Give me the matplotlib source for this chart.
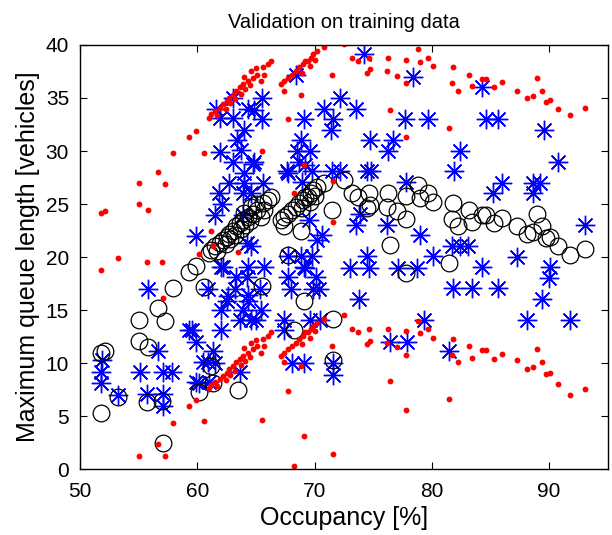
import matplotlib
matplotlib.use('Agg')
import matplotlib.pyplot as plt

plt.rcParams['font.family'] = ['Liberation Sans', 'DejaVu Sans']

# model estimate (black circles)
est_x = [51.8, 52.1, 51.8, 53.2, 55.0, 55.0, 55.8, 56.6, 57.2, 55.7, 57.0, 57.1,
         57.9, 59.3, 59.9, 60.6, 61.2, 61.3, 60.1, 63.5, 65.5, 61.0,
         61.2, 61.5, 61.7, 61.9, 62.2, 62.4, 62.5, 62.7, 62.8, 63.0, 63.2, 63.3,
         63.6, 63.7, 63.9, 64.0, 64.1, 64.3, 64.5, 64.6, 64.7, 65.0, 65.1, 65.4,
         65.6, 65.7, 66.0, 66.3,
         67.1, 67.4, 67.4, 67.7, 68.1, 68.4, 68.7, 68.8, 68.9, 69.0, 69.2, 69.4,
         69.6, 69.7, 69.9, 70.0, 70.2, 70.8, 67.7, 69.1, 71.6, 68.2, 71.6,
         71.5, 72.5, 73.2, 73.7, 74.6, 74.7, 74.5, 76.3, 76.2, 77.0, 77.8, 77.8,
         78.8, 79.0, 79.7, 80.1, 81.8, 81.7, 82.2, 76.4, 77.8, 81.5, 83.2, 83.4,
         84.3, 84.6, 85.3, 86.0, 87.3, 88.1, 88.6, 89.0, 89.4, 89.7, 90.1, 90.8,
         91.8, 93.1]
est_y = [11.0, 11.1, 5.3, 6.8, 14.1, 12.1, 11.5, 15.2, 14.0, 6.3, 6.4, 2.5,
         17.1, 18.6, 19.2, 17.2, 9.7, 8.1, 7.3, 7.5, 17.3, 20.4,
         20.7, 21.0, 20.6, 21.3, 21.6, 21.2, 21.9, 22.2, 21.7, 22.5, 22.1, 22.9,
         23.2, 22.6, 23.5, 24.2, 23.0, 23.8, 23.4, 24.7, 24.1, 25.0, 24.4, 23.8,
         25.1, 24.4, 25.4, 25.7,
         23.5, 23.8, 22.9, 24.1, 24.4, 24.7, 25.1, 22.5, 24.6, 25.4, 25.7, 25.7,
         25.2, 26.0, 26.3, 25.8, 26.6, 27.0, 20.2, 15.9, 14.2, 13.1, 10.3,
         24.4, 27.3, 26.0, 25.7, 26.0, 24.9, 24.6, 26.0, 24.7, 24.3, 23.6, 25.8,
         26.8, 25.6, 26.0, 25.2, 25.1, 23.6, 22.9, 21.1, 18.5, 19.4, 24.4, 23.3,
         24.0, 24.0, 23.2, 23.7, 22.9, 22.2, 22.4, 24.1, 22.9, 21.8, 21.9, 21.0,
         20.2, 20.8]

# upper and lower bounds (red dots), same occupancy values as the estimate
upper_y = [24.2, 24.3, 18.8, 19.9, 27.0, 25.0, 24.4, 28.0, 26.9, 19.5, 19.5, 16.1,
           29.8, 31.3, 31.9, 29.8, 22.5, 21.0, 20.3, 20.5, 30.0, 33.1,
           33.5, 33.8, 33.4, 34.1, 34.4, 34.0, 34.7, 35.0, 34.5, 35.3, 34.9, 35.7,
           36.0, 35.4, 36.3, 37.0, 35.8, 36.6, 36.2, 37.5, 36.9, 37.8, 37.2, 36.6,
           37.9, 37.2, 38.2, 38.5,
           36.3, 36.6, 35.7, 36.9, 37.2, 37.5, 37.9, 35.3, 37.4, 38.2, 38.5, 38.5,
           38.0, 38.8, 39.1, 38.6, 39.4, 39.8, 33.0, 28.7, 27.2, 26.0, 23.3,
           37.2, 40.1, 38.8, 38.5, 38.8, 37.7, 37.4, 38.8, 37.5, 37.1, 36.4, 38.6,
           39.6, 38.4, 38.8, 38.0, 37.9, 36.4, 35.7, 33.9, 31.3, 32.2, 37.2, 36.1,
           36.8, 36.8, 36.0, 36.5, 35.7, 35.0, 35.2, 36.9, 35.7, 34.6, 34.8, 34.0,
           33.4, 34.1]
lower_y = [-1.8, -1.7, -7.5, -6.0, 1.2, -0.7, -1.3, 2.4, 1.2, -6.5, -6.4, -10.0,
           4.4, 6.0, 6.5, 4.5, -3.1, -4.7, -5.5, -5.3, 4.6, 7.7,
           7.9, 8.2, 7.8, 8.5, 8.8, 8.4, 9.1, 9.4, 8.9, 9.7, 9.3, 10.1,
           10.4, 9.8, 10.7, 11.4, 10.2, 11.0, 10.6, 11.9, 11.3, 12.2, 11.6, 11.0,
           12.3, 11.6, 12.6, 12.9,
           10.7, 11.0, 10.1, 11.3, 11.6, 11.9, 12.3, 9.7, 11.8, 12.6, 12.9, 12.9,
           12.4, 13.2, 13.5, 13.0, 13.8, 14.2, 7.4, 3.1, 1.4, 0.3, -2.5,
           11.6, 14.5, 13.2, 12.9, 13.2, 12.1, 11.8, 13.2, 11.9, 11.5, 10.8, 13.0,
           14.0, 12.8, 13.2, 12.4, 12.3, 10.8, 10.1, 8.3, 5.6, 6.6, 11.6, 10.5,
           11.2, 11.2, 10.4, 10.9, 10.3, 9.4, 9.6, 11.3, 10.1, 9.0, 9.1, 8.0,
           7.0, 7.6]

# measured queue lengths (blue asterisks)
meas_x = [61.6, 63.0, 61.9, 63.0, 64.3, 64.8, 65.5, 65.5, 64.0, 63.4, 63.7, 61.9,
          63.0, 64.8, 64.0, 62.7, 64.0, 65.6, 61.8, 63.9, 64.6, 62.1, 61.5, 63.9,
          59.9, 64.7,
          68.4, 74.2, 78.4, 72.2, 70.8, 73.5, 69.1, 71.6, 71.4, 77.7, 79.7, 68.8,
          74.7, 76.7, 76.3, 69.6, 68.5, 68.7, 82.4, 81.9, 67.6, 69.8, 71.5, 72.2,
          74.5, 74.8, 77.8, 68.9, 67.7, 69.2, 69.5, 70.6, 73.5, 76.2, 79.0, 73.9,
          70.2,
          84.3, 84.6, 85.6, 89.6, 90.8, 86.0, 85.2, 88.6, 89.2, 88.6, 93.1,
          81.7, 82.4, 83.1, 87.3, 84.3, 90.1, 90.0, 81.8, 83.4, 85.6, 89.4, 88.1,
          91.8,
          67.7, 68.8, 69.8, 69.2, 67.7, 70.1, 68.0, 70.4, 73.0, 74.5, 74.6, 77.1,
          78.7, 80.1, 73.8, 67.4, 67.4, 69.6, 70.5, 68.1, 69.1, 71.6, 71.6, 76.4,
          77.9, 79.3, 81.5, 69.1, 69.9,
          60.9, 63.2, 64.3, 62.5, 62.0, 63.9, 65.4, 63.6, 64.6, 65.0, 59.3, 62.0,
          59.9, 61.3, 60.5, 61.5, 63.6, 59.9, 61.0, 65.3, 62.0, 64.3, 64.2, 64.6,
          65.7, 63.3, 64.2, 64.3, 62.6,
          56.6, 51.9, 51.8, 51.8, 53.2, 55.1, 57.1, 57.8, 55.7, 57.1, 57.1, 60.1,
          60.9, 55.8, 62.2, 59.5]
meas_y = [34.0, 35.0, 33.1, 33.1, 34.0, 33.9, 35.0, 33.0, 32.0, 31.0, 30.1, 29.9,
          29.0, 29.0, 27.9, 27.0, 27.0, 27.0, 26.0, 26.0, 26.0, 25.0, 24.0, 24.0,
          22.0, 28.8,
          37.2, 39.1, 37.0, 35.0, 34.0, 34.0, 33.0, 33.0, 32.0, 33.0, 33.0, 31.0,
          31.0, 31.0, 30.0, 30.0, 30.0, 29.0, 30.0, 28.1, 28.1, 28.1, 28.1, 28.1,
          28.1, 28.1, 27.1, 27.1, 27.9, 28.7, 23.5, 22.1, 23.0, 23.0, 22.1, 24.1,
          21.6,
          36.0, 33.0, 33.0, 32.0, 29.0, 27.0, 26.0, 27.0, 27.0, 26.0, 23.0,
          21.0, 21.0, 21.0, 20.0, 19.1, 19.1, 18.0, 17.1, 17.1, 17.1, 16.0, 14.1,
          14.1,
          20.1, 20.1, 20.1, 19.0, 18.1, 18.1, 17.0, 17.0, 19.0, 20.1, 19.0, 19.0,
          19.0, 20.1, 16.0, 14.1, 13.1, 14.1, 14.1, 10.0, 10.0, 10.0, 8.9, 12.0,
          12.0, 14.1, 11.1, 19.1, 17.0,
          17.0, 17.0, 15.9, 15.9, 15.0, 15.0, 15.0, 14.1, 14.1, 14.1, 13.1, 13.1,
          12.0, 11.1, 10.1, 10.0, 9.2, 8.2, 8.2, 17.0, 19.1, 19.1, 21.3, 21.0,
          19.1, 18.1, 18.1, 16.4, 16.3,
          11.1, 10.3, 9.2, 8.1, 7.0, 9.2, 9.2, 9.2, 7.1, 7.1, 6.0, 8.1,
          10.1, 17.0, 19.1, 13.1]

fig = plt.figure(figsize=(6.12, 5.35), dpi=100)
ax = fig.add_axes([0.131, 0.123, 0.862, 0.793])

ax.plot(meas_x, meas_y, linestyle='none', marker=(8, 2, 0), markersize=14,
        markeredgecolor='#0000ff', markeredgewidth=1.0)
ax.plot(est_x, est_y, linestyle='none', marker='o', markersize=12,
        markerfacecolor='none', markeredgecolor='black', markeredgewidth=0.9)
ax.plot(est_x, upper_y, linestyle='none', marker='o', markersize=4.2,
        color='#ff0000', markeredgewidth=0)
ax.plot(est_x, lower_y, linestyle='none', marker='o', markersize=4.2,
        color='#ff0000', markeredgewidth=0)

ax.set_xlim(50, 95)
ax.set_ylim(0, 40)
ax.set_xticks([50, 60, 70, 80, 90])
ax.set_yticks(range(0, 41, 5))
ax.tick_params(direction='in', top=True, right=True, labelsize=15, length=5)
ax.tick_params(axis='x', pad=9)
ax.tick_params(axis='y', pad=8)
for s in ax.spines.values():
    s.set_linewidth(1.0)

ax.set_xlabel('Occupancy [%]', fontsize=18, labelpad=4)
ax.set_ylabel('Maximum queue length [vehicles]', fontsize=18, labelpad=4)
ax.set_title('Validation on training data', fontsize=14.5, pad=12)

fig.savefig('out.png', dpi=100)
